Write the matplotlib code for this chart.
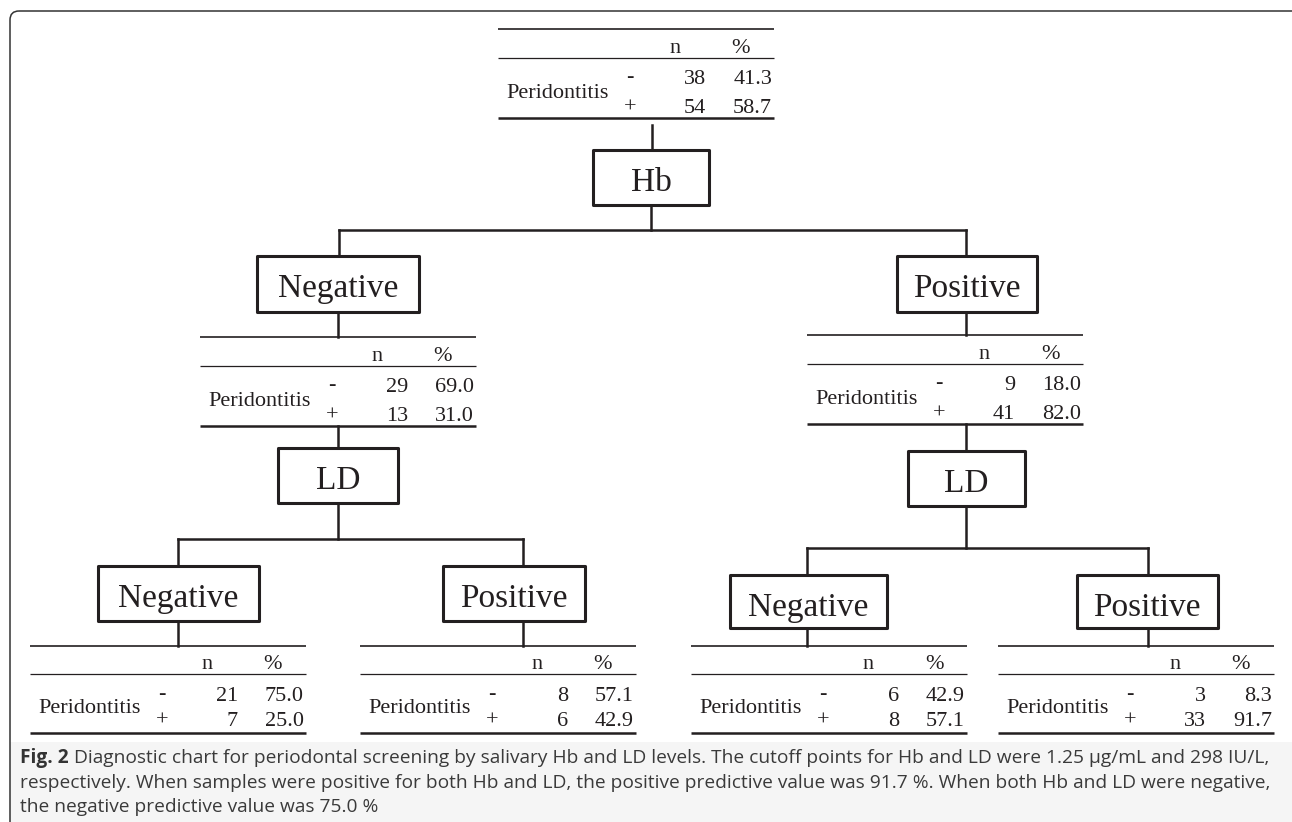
import matplotlib.pyplot as plt
from matplotlib.patches import Rectangle, FancyBboxPatch

# tables: root, Hb-, Hb+, Hb-/LD-, Hb-/LD+, Hb+/LD-, Hb+/LD+
n_neg = [38, 29, 9, 21, 8, 6, 3]
n_pos = [54, 13, 41, 7, 6, 8, 33]
pct_neg = [41.3, 69.0, 18.0, 75.0, 57.1, 42.9, 8.3]
pct_pos = [58.7, 31.0, 82.0, 25.0, 42.9, 57.1, 91.7]
row_label = "Peridontitis"
col_labels = ["n", "%"]
signs = ["-", "+"]

box_labels = ["Hb", "Negative", "Positive", "LD", "LD",
              "Negative", "Positive", "Negative", "Positive"]

caption_bold = "Fig. 2"
caption_lines = [
    " Diagnostic chart for periodontal screening by salivary Hb and LD levels. The cutoff points for Hb and LD were 1.25 μg/mL and 298 IU/L,",
    "respectively. When samples were positive for both Hb and LD, the positive predictive value was 91.7 %. When both Hb and LD were negative,",
    "the negative predictive value was 75.0 %",
]

# layout (pixels, y downwards)
table_xy = [(498, 29), (200, 337), (807, 335), (30, 646), (360, 646), (691, 646), (998, 646)]
table_w = 276
# offsets inside a table: header line, header baseline, row1 baseline, row2 baseline, bottom line
big_rows = (29.5, 24, 55, 84, 89)
small_rows = (28, 23, 55, 80, 87)
box_geom = [(651, 150, 205, 116), (338, 256, 312, 162), (967, 256, 312, 140),
            (338, 448, 503, 120), (966, 451, 506, 117),
            (178, 566, 621, 161), (514, 566, 621, 142),
            (808, 575, 628, 157), (1147, 575, 628, 141)]
links = [(652, 125, 652, 150), (651, 205, 651, 230), (339, 230, 966, 230),
         (339, 230, 339, 256), (966, 230, 966, 256),
         (338, 312, 338, 337), (966, 312, 966, 335),
         (338, 426, 338, 448), (338, 503, 338, 539), (178, 539, 523, 539),
         (178, 539, 178, 566), (523, 539, 523, 566),
         (178, 621, 178, 646), (523, 621, 523, 646),
         (966, 424, 966, 451), (966, 506, 966, 548), (807, 548, 1148, 548),
         (807, 548, 807, 575), (1148, 548, 1148, 575),
         (807, 628, 807, 646), (1148, 628, 1148, 646)]

ink = "#231f20"
serif = "Liberation Serif"

fig = plt.figure(figsize=(12.92, 8.22), dpi=100)
ax = fig.add_axes([0, 0, 1, 1])
ax.set_xlim(0, 1292)
ax.set_ylim(822, 0)
ax.axis("off")

# caption panel + outer frame
ax.add_patch(Rectangle((10, 742), 1300, 100, fc="#f5f5f5", ec="none"))
ax.add_patch(FancyBboxPatch((10, 11), 1300, 830, boxstyle="round,pad=0,rounding_size=9",
                            fc="none", ec="#333333", lw=1.1))

# tables
for i, (x0, y0) in enumerate(table_xy):
    hl, hb, r1, r2, bl = big_rows if i < 3 else small_rows
    ax.plot([x0, x0 + table_w], [y0, y0], color=ink, lw=1.2, solid_capstyle="butt")
    ax.plot([x0, x0 + table_w], [y0 + hl, y0 + hl], color=ink, lw=0.9, solid_capstyle="butt")
    ax.plot([x0, x0 + table_w], [y0 + bl, y0 + bl], color=ink, lw=1.8, solid_capstyle="butt")
    ax.text(x0 + 177, y0 + hb, col_labels[0], ha="center", va="baseline",
            family=serif, fontsize=16, color=ink)
    ax.text(x0 + 243, y0 + hb, col_labels[1], ha="center", va="baseline",
            family=serif, fontsize=16, color=ink)
    ax.text(x0 + 60, y0 + (r1 + r2) / 2 - 1, row_label, ha="center", va="baseline",
            family=serif, fontsize=16, color=ink)
    for j, (n, p) in enumerate([(n_neg[i], pct_neg[i]), (n_pos[i], pct_pos[i])]):
        yb = y0 + (r1 if j == 0 else r2)
        ax.text(x0 + 132, yb - (2 if j == 0 else 0), signs[j], ha="center", va="baseline",
                family=serif, fontsize=16, color=ink,
                fontweight="bold" if j == 0 else "normal")
        ax.text(x0 + 208, yb, str(n), ha="right", va="baseline",
                family=serif, fontsize=16, color=ink)
        ax.text(x0 + 274, yb, "%.1f" % p, ha="right", va="baseline",
                family=serif, fontsize=16, color=ink)

# connectors
for x0, y0, x1, y1 in links:
    ax.plot([x0, x1], [y0, y1], color=ink, lw=1.8, solid_capstyle="projecting")

# boxes
for lab, (cx, top, bot, w) in zip(box_labels, box_geom):
    ax.add_patch(Rectangle((cx - w / 2, top), w, bot - top, fc="white", ec=ink,
                           lw=2.2, joinstyle="round"))
    ax.text(cx, top + 41, lab, ha="center", va="baseline",
            family=serif, fontsize=24, color=ink)

# caption
cap_y = [763, 788, 812]
cap_fs = 13.75
t = ax.text(20, cap_y[0], caption_bold, ha="left", va="baseline",
            family="Open Sans", fontweight="bold", fontsize=cap_fs, color="#333333")
fig.canvas.draw()
bb = t.get_window_extent()
x_after = ax.transData.inverted().transform((bb.x1, bb.y0))[0]
ax.text(x_after, cap_y[0], caption_lines[0], ha="left", va="baseline",
        family="Open Sans", fontsize=cap_fs, color="#3a3a3a")
for line, y in zip(caption_lines[1:], cap_y[1:]):
    ax.text(20, y, line, ha="left", va="baseline",
            family="Open Sans", fontsize=cap_fs, color="#3a3a3a")

plt.savefig("out.png", dpi=100)
